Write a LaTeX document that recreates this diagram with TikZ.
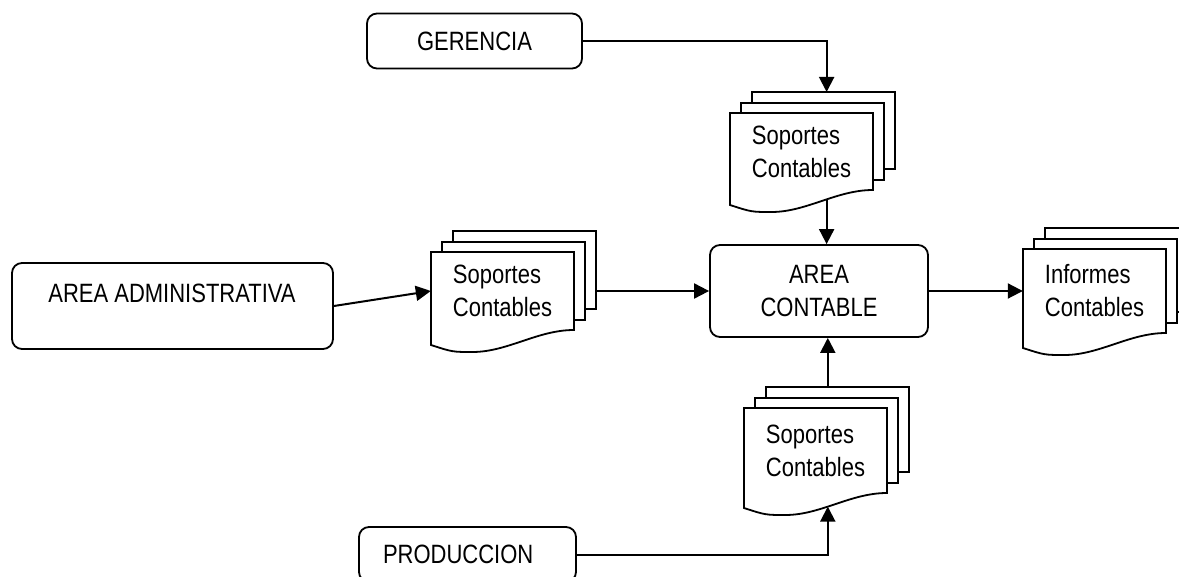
\documentclass[tikz,border=0pt]{standalone}
\usepackage{fontspec}
\setmainfont{Liberation Sans}[FakeStretch=0.83]
\usepackage{tikz}
\usetikzlibrary{arrows.meta}

% stack of three sheets: name, x, y, text, height
\newcommand{\docstack}[5]{%
  \pgfmathsetmacro{\hh}{#5/2}
  \begin{scope}[shift={(#2,#3)}]
    \draw[sheet] (-49.5,-\hh-21) rectangle (93.5,\hh-21);
    \draw[sheet] (-60.5,-\hh-10) rectangle (82.5,\hh-10);
    \draw[sheet] (-71.5,-\hh) -- (71.5,-\hh) -- (71.5,\hh)
      .. controls (35,\hh) and (5,\hh+22) .. (-30,\hh+22)
      coordinate[pos=0.45] (#1-foot) coordinate[pos=0.58] (#1-heel)
      .. controls (-50,\hh+22) .. (-71.5,\hh+15) -- cycle;
    \coordinate (#1-head) at (22,-\hh-21);
    \coordinate (#1-out) at (93.5,0);
  \end{scope}
  \node[doctext, minimum height=#5] (#1) at (#2,#3) {#4};
}

\begin{document}
\begin{tikzpicture}[x=1pt,y=-1pt]
  \tikzset{box/.style = {draw, rounded corners=10pt, line width=1.8pt, inner sep=0pt}}
  \tikzset{sheet/.style = {draw, fill=white, line width=1.8pt}}
  \tikzset{doctext/.style = {minimum width=143pt, align=left, inner sep=0pt}}
  \tikzset{flow/.style = {line width=2pt, -{Triangle[length=15pt,width=15pt]}}}
  \useasboundingbox (0,0) rectangle (1179,577);
  \clip (0,0) rectangle (1179,577);
  \fontsize{26.5}{33}\selectfont

	\node[box, minimum width=215pt, minimum height=55pt] (ger) at (474.5,41) {GERENCIA};
	\node[box, minimum width=321pt, minimum height=86pt] (admin) at (172.5,306) {};
	\node (admintxt) at (172,293) {AREA ADMINISTRATIVA};
	\node[box, minimum width=218pt, minimum height=92pt, align=center] (contable) at (819,291) {AREA\\CONTABLE};
	\node[box, minimum width=217pt, minimum height=55pt, text width=169pt, inner xsep=24pt, align=left] (prod) at (467.5,554.5) {PRODUCCION};

	\docstack{sopG}{801.5}{151.5}{Soportes\\Contables}{77}
	\docstack{sopA}{502.5}{291}{Soportes\\Contables}{78}
	\docstack{sopP}{815.5}{450.5}{Soportes\\Contables}{85}
	\docstack{infC}{1094.5}{291}{Informes\\Contables}{84}

	\coordinate (gerin) at (sopG-head -| sopG-foot);
	\draw[flow] (ger.east) -| (gerin);
	\draw[flow] (sopG-foot) -- (sopG-foot |- contable.north);
	\draw[flow] (admin.east) -- (sopA.west);
	\draw[flow] (sopA-out) -- (contable.west);
	\draw[flow] (contable.east) -- (infC.west);
	\draw[flow] (sopP-head -| sopP-heel) -- (sopP-heel |- contable.south);
	\draw[flow] (prod.east) -| (sopP-heel);

\end{tikzpicture}
\end{document}
